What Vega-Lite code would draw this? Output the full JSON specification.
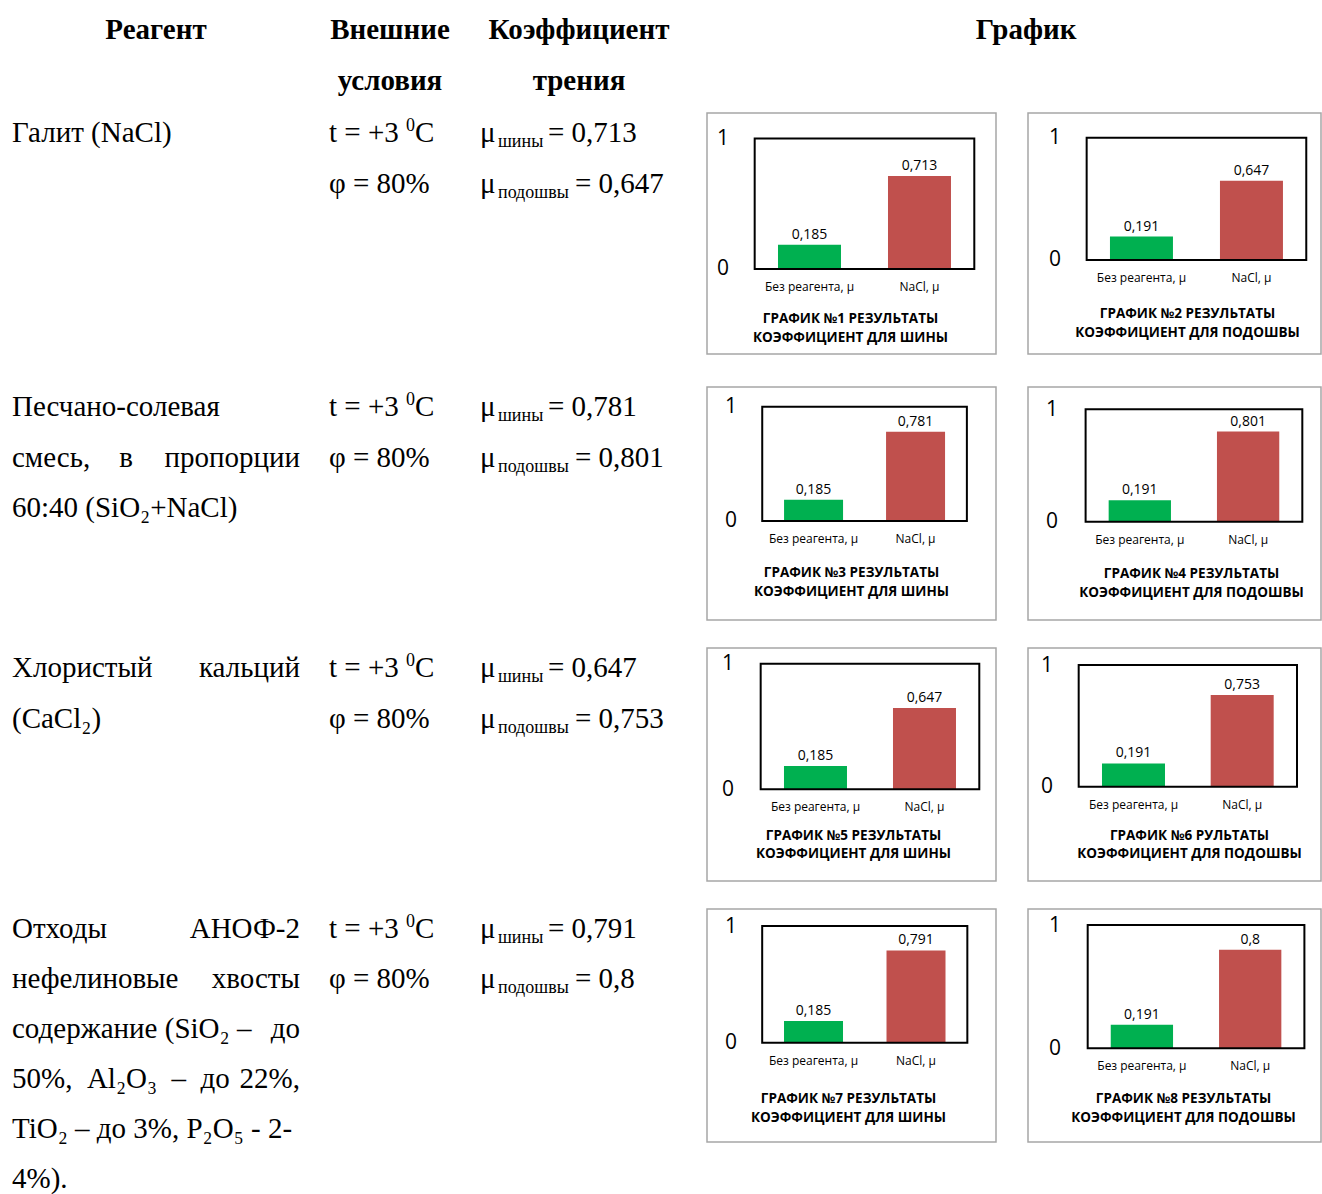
{
"$schema": "https://vega.github.io/schema/vega-lite/v6.json",
"padding": {"left": 12, "top": 0, "right": 0, "bottom": 0},
"background": "white",
"datasets": {
 "header": [
  {"col": "A", "line": 0, "txt": "Реагент"},
  {"col": "B", "line": 0, "txt": "Внешние"},
  {"col": "B", "line": 1, "txt": "условия"},
  {"col": "C", "line": 0, "txt": "Коэффициент"},
  {"col": "C", "line": 1, "txt": "трения"},
  {"col": "D", "line": 0, "txt": "График"}
 ],
 "reagent": [
  {"r": 1, "line": 0, "part": "L", "txt": "Галит (NaCl)"},
  {"r": 2, "line": 0, "part": "L", "txt": "Песчано-солевая"},
  {"r": 2, "line": 1, "part": "L", "txt": "смесь,\u00a0\u00a0\u00a0\u00a0в"},
  {"r": 2, "line": 1, "part": "R", "txt": "пропорции"},
  {"r": 2, "line": 2, "part": "L", "txt": "60:40 (SiO₂+NaCl)"},
  {"r": 3, "line": 0, "part": "L", "txt": "Хлористый"},
  {"r": 3, "line": 0, "part": "R", "txt": "кальций"},
  {"r": 3, "line": 1, "part": "L", "txt": "(CaCl₂)"},
  {"r": 4, "line": 0, "part": "L", "txt": "Отходы"},
  {"r": 4, "line": 0, "part": "R", "txt": "АНОФ-2"},
  {"r": 4, "line": 1, "part": "L", "txt": "нефелиновые"},
  {"r": 4, "line": 1, "part": "R", "txt": "хвосты"},
  {"r": 4, "line": 2, "part": "L", "txt": "содержание (SiO₂ –"},
  {"r": 4, "line": 2, "part": "R", "txt": "до"},
  {"r": 4, "line": 3, "part": "L", "txt": "50%,\u00a0\u00a0Al₂O₃\u00a0\u00a0–\u00a0\u00a0до"},
  {"r": 4, "line": 3, "part": "R", "txt": "22%,"},
  {"r": 4, "line": 4, "part": "L", "txt": "TiO₂ – до 3%, P₂O₅ - 2-"},
  {"r": 4, "line": 5, "part": "L", "txt": "4%)."}
 ],
 "cond": [
  {"r": 1, "line": 0, "main": "t = +3", "sup": "0", "tail": "C"}, {"r": 1, "line": 1, "main": "φ = 80%", "sup": "", "tail": ""},
  {"r": 2, "line": 0, "main": "t = +3", "sup": "0", "tail": "C"}, {"r": 2, "line": 1, "main": "φ = 80%", "sup": "", "tail": ""},
  {"r": 3, "line": 0, "main": "t = +3", "sup": "0", "tail": "C"}, {"r": 3, "line": 1, "main": "φ = 80%", "sup": "", "tail": ""},
  {"r": 4, "line": 0, "main": "t = +3", "sup": "0", "tail": "C"}, {"r": 4, "line": 1, "main": "φ = 80%", "sup": "", "tail": ""}
 ],
 "coef": [
  {"r": 1, "line": 0, "kind": "s", "sub": "шины", "val": "= 0,713"},
  {"r": 1, "line": 1, "kind": "p", "sub": "подошвы", "val": "= 0,647"},
  {"r": 2, "line": 0, "kind": "s", "sub": "шины", "val": "= 0,781"},
  {"r": 2, "line": 1, "kind": "p", "sub": "подошвы", "val": "= 0,801"},
  {"r": 3, "line": 0, "kind": "s", "sub": "шины", "val": "= 0,647"},
  {"r": 3, "line": 1, "kind": "p", "sub": "подошвы", "val": "= 0,753"},
  {"r": 4, "line": 0, "kind": "s", "sub": "шины", "val": "= 0,791"},
  {"r": 4, "line": 1, "kind": "p", "sub": "подошвы", "val": "= 0,8"}
 ],
 "bars": [
  {"chart": 1, "cat": "Без реагента, μ", "val": 0.185}, {"chart": 1, "cat": "NaCl, μ", "val": 0.713},
  {"chart": 2, "cat": "Без реагента, μ", "val": 0.191}, {"chart": 2, "cat": "NaCl, μ", "val": 0.647},
  {"chart": 3, "cat": "Без реагента, μ", "val": 0.185}, {"chart": 3, "cat": "NaCl, μ", "val": 0.781},
  {"chart": 4, "cat": "Без реагента, μ", "val": 0.191}, {"chart": 4, "cat": "NaCl, μ", "val": 0.801},
  {"chart": 5, "cat": "Без реагента, μ", "val": 0.185}, {"chart": 5, "cat": "NaCl, μ", "val": 0.647},
  {"chart": 6, "cat": "Без реагента, μ", "val": 0.191}, {"chart": 6, "cat": "NaCl, μ", "val": 0.753},
  {"chart": 7, "cat": "Без реагента, μ", "val": 0.185}, {"chart": 7, "cat": "NaCl, μ", "val": 0.791},
  {"chart": 8, "cat": "Без реагента, μ", "val": 0.191}, {"chart": 8, "cat": "NaCl, μ", "val": 0.8}
 ],
 "frame": [
  {"from": "Без реагента, μ", "to": "NaCl, μ", "lo": 0, "hi": 1}
 ]
},
"vconcat": [
 {"hconcat": [
   {"width": 288, "height": 95, "data": {"name": "header"}, "transform": [{"filter": "datum.col == 'A'"}],
    "mark": {"type": "text", "font": "Liberation Serif", "fontSize": 29, "fontWeight": "bold", "baseline": "alphabetic", "align": "center", "fill": "#000000"},
    "encoding": {"x": {"field": "col", "type": "nominal", "scale": {"type": "point", "padding": 0.5}, "axis": null},
     "y": {"field": "line", "type": "quantitative", "scale": {"domain": [-0.7723, 1.1089], "reverse": true, "nice": false, "zero": false}, "axis": null},
     "text": {"field": "txt"}}},
   {"width": 122, "height": 95, "data": {"name": "header"}, "transform": [{"filter": "datum.col == 'B'"}],
    "mark": {"type": "text", "font": "Liberation Serif", "fontSize": 29, "fontWeight": "bold", "baseline": "alphabetic", "align": "center", "fill": "#000000"},
    "encoding": {"x": {"field": "col", "type": "nominal", "scale": {"type": "point", "padding": 0.5}, "axis": null},
     "y": {"field": "line", "type": "quantitative", "scale": {"domain": [-0.7723, 1.1089], "reverse": true, "nice": false, "zero": false}, "axis": null},
     "text": {"field": "txt"}}},
   {"width": 198, "height": 95, "data": {"name": "header"}, "transform": [{"filter": "datum.col == 'C'"}],
    "mark": {"type": "text", "font": "Liberation Serif", "fontSize": 29, "fontWeight": "bold", "baseline": "alphabetic", "align": "center", "fill": "#000000"},
    "encoding": {"x": {"field": "col", "type": "nominal", "scale": {"type": "point", "padding": 0.5}, "axis": null},
     "y": {"field": "line", "type": "quantitative", "scale": {"domain": [-0.7723, 1.1089], "reverse": true, "nice": false, "zero": false}, "axis": null},
     "text": {"field": "txt"}}},
   {"width": 614, "height": 95, "data": {"name": "header"}, "transform": [{"filter": "datum.col == 'D'"}],
    "mark": {"type": "text", "font": "Liberation Serif", "fontSize": 29, "fontWeight": "bold", "baseline": "alphabetic", "align": "center", "fill": "#000000", "dx": 12},
    "encoding": {"x": {"field": "col", "type": "nominal", "scale": {"type": "point", "padding": 0.5}, "axis": null},
     "y": {"field": "line", "type": "quantitative", "scale": {"domain": [-0.7723, 1.1089], "reverse": true, "nice": false, "zero": false}, "axis": null},
     "text": {"field": "txt"}}}
  ], "spacing": 29, "bounds": "flush"},

 {"hconcat": [
   {"width": 288, "height": 257, "data": {"name": "reagent"}, "transform": [{"filter": "datum.r == 1"}],
    "encoding": {"x": {"field": "part", "type": "nominal", "scale": {"type": "point", "domain": ["L", "R"], "padding": 0}, "axis": null},
     "y": {"field": "line", "type": "quantitative", "scale": {"domain": [-0.5743, 4.5148], "reverse": true, "nice": false, "zero": false}, "axis": null},
     "text": {"field": "txt"}},
    "layer": [
     {"transform": [{"filter": "datum.part == 'L'"}], "mark": {"type": "text", "font": "Liberation Serif", "fontSize": 29, "baseline": "alphabetic", "align": "left", "fill": "#000000"}},
     {"transform": [{"filter": "datum.part == 'R'"}], "mark": {"type": "text", "font": "Liberation Serif", "fontSize": 29, "baseline": "alphabetic", "align": "right", "fill": "#000000"}}
    ]},
   {"width": 122, "height": 257, "data": {"name": "cond"}, "transform": [{"filter": "datum.r == 1"}],
    "encoding": {"x": {"datum": 0, "type": "quantitative", "scale": {"domain": [0, 1], "nice": false, "zero": false}, "axis": null},
     "y": {"field": "line", "type": "quantitative", "scale": {"domain": [-0.5743, 4.5148], "reverse": true, "nice": false, "zero": false}, "axis": null}},
    "layer": [
     {"mark": {"type": "text", "font": "Liberation Serif", "fontSize": 29, "baseline": "alphabetic", "align": "left", "fill": "#000000"}, "encoding": {"text": {"field": "main"}}},
     {"mark": {"type": "text", "font": "Liberation Serif", "fontSize": 18, "baseline": "alphabetic", "align": "left", "fill": "#000000", "dx": 77, "dy": -11}, "encoding": {"text": {"field": "sup"}}},
     {"mark": {"type": "text", "font": "Liberation Serif", "fontSize": 29, "baseline": "alphabetic", "align": "left", "fill": "#000000", "dx": 86}, "encoding": {"text": {"field": "tail"}}}
    ]},
   {"width": 198, "height": 257, "data": {"name": "coef"}, "transform": [{"filter": "datum.r == 1"}],
    "encoding": {"x": {"datum": 0, "type": "quantitative", "scale": {"domain": [0, 1], "nice": false, "zero": false}, "axis": null},
     "y": {"field": "line", "type": "quantitative", "scale": {"domain": [-0.5743, 4.5148], "reverse": true, "nice": false, "zero": false}, "axis": null}},
    "layer": [
     {"mark": {"type": "text", "text": "μ", "font": "Liberation Serif", "fontSize": 29, "baseline": "alphabetic", "align": "left", "fill": "#000000"}},
     {"mark": {"type": "text", "font": "Liberation Serif", "fontSize": 18, "baseline": "alphabetic", "align": "left", "fill": "#000000", "dx": 18, "dy": 5}, "encoding": {"text": {"field": "sub"}}},
     {"transform": [{"filter": "datum.kind == 's'"}], "mark": {"type": "text", "font": "Liberation Serif", "fontSize": 29, "baseline": "alphabetic", "align": "left", "fill": "#000000", "dx": 68}, "encoding": {"text": {"field": "val"}}},
     {"transform": [{"filter": "datum.kind == 'p'"}], "mark": {"type": "text", "font": "Liberation Serif", "fontSize": 29, "baseline": "alphabetic", "align": "left", "fill": "#000000", "dx": 95}, "encoding": {"text": {"field": "val"}}}
    ]},
   {"hconcat": [
     {"width": 289, "height": 241, "view": {"stroke": "#a6a6a6", "strokeWidth": 1.5},
      "title": {"text": ["ГРАФИК №1 РЕЗУЛЬТАТЫ", "КОЭФФИЦИЕНТ ДЛЯ ШИНЫ"], "offset": -42, "dx": -1},
      "layer": [
       {"data": {"name": "bars"}, "transform": [{"filter": "datum.chart == 1"}], "mark": {"type": "bar"},
        "encoding": {"x": {"field": "cat", "type": "nominal", "scale": {"domain": ["Без реагента, μ", "NaCl, μ"], "paddingInner": 0.4273, "paddingOuter": 0.5273, "align": 0.612}, "axis": {"offset": -85, "title": null}},
         "y": {"field": "val", "type": "quantitative", "scale": {"domain": [-0.652, 1.196], "nice": false, "zero": false}, "axis": {"offset": -21.5, "values": [0, 1], "title": null}},
         "color": {"field": "cat", "type": "nominal", "scale": {"domain": ["Без реагента, μ", "NaCl, μ"], "range": ["#00b050", "#c0504d"]}, "legend": null}}},
       {"data": {"name": "bars"}, "transform": [{"filter": "datum.chart == 1"}], "mark": {"type": "text", "baseline": "bottom", "dy": -3, "font": "Open Sans", "fontSize": 14, "fill": "#000000"},
        "encoding": {"x": {"field": "cat", "type": "nominal", "scale": {"domain": ["Без реагента, μ", "NaCl, μ"], "paddingInner": 0.4273, "paddingOuter": 0.5273, "align": 0.612}, "axis": {"offset": -85, "title": null}},
         "y": {"field": "val", "type": "quantitative", "scale": {"domain": [-0.652, 1.196], "nice": false, "zero": false}, "axis": {"offset": -21.5, "values": [0, 1], "title": null}},
         "text": {"field": "val", "type": "quantitative", "format": "~g"}}},
       {"data": {"name": "frame"}, "mark": {"type": "rect", "fill": "transparent", "stroke": "#000000", "strokeWidth": 2},
        "encoding": {"x": {"field": "from", "type": "nominal", "bandPosition": -0.37, "scale": {"domain": ["Без реагента, μ", "NaCl, μ"], "paddingInner": 0.4273, "paddingOuter": 0.5273, "align": 0.612}, "axis": {"offset": -85, "title": null}},
         "x2": {"field": "to", "bandPosition": 1.37},
         "y": {"field": "hi", "type": "quantitative", "scale": {"domain": [-0.652, 1.196], "nice": false, "zero": false}, "axis": {"offset": -21.5, "values": [0, 1], "title": null}},
         "y2": {"field": "lo"}}}
      ]},
     {"width": 293, "height": 241, "view": {"stroke": "#a6a6a6", "strokeWidth": 1.5},
      "title": {"text": ["ГРАФИК №2 РЕЗУЛЬТАТЫ", "КОЭФФИЦИЕНТ ДЛЯ ПОДОШВЫ"], "offset": -47, "dx": 13},
      "layer": [
       {"data": {"name": "bars"}, "transform": [{"filter": "datum.chart == 2"}], "mark": {"type": "bar"},
        "encoding": {"x": {"field": "cat", "type": "nominal", "scale": {"domain": ["Без реагента, μ", "NaCl, μ"], "paddingInner": 0.4273, "paddingOuter": 0.5455, "align": 0.683}, "axis": {"offset": -94, "title": null}},
         "y": {"field": "val", "type": "quantitative", "scale": {"domain": [-0.769, 1.202], "nice": false, "zero": false}, "axis": {"offset": -32.5, "values": [0, 1], "title": null}},
         "color": {"field": "cat", "type": "nominal", "scale": {"domain": ["Без реагента, μ", "NaCl, μ"], "range": ["#00b050", "#c0504d"]}, "legend": null}}},
       {"data": {"name": "bars"}, "transform": [{"filter": "datum.chart == 2"}], "mark": {"type": "text", "baseline": "bottom", "dy": -3, "font": "Open Sans", "fontSize": 14, "fill": "#000000"},
        "encoding": {"x": {"field": "cat", "type": "nominal", "scale": {"domain": ["Без реагента, μ", "NaCl, μ"], "paddingInner": 0.4273, "paddingOuter": 0.5455, "align": 0.683}, "axis": {"offset": -94, "title": null}},
         "y": {"field": "val", "type": "quantitative", "scale": {"domain": [-0.769, 1.202], "nice": false, "zero": false}, "axis": {"offset": -32.5, "values": [0, 1], "title": null}},
         "text": {"field": "val", "type": "quantitative", "format": "~g"}}},
       {"data": {"name": "frame"}, "mark": {"type": "rect", "fill": "transparent", "stroke": "#000000", "strokeWidth": 2},
        "encoding": {"x": {"field": "from", "type": "nominal", "bandPosition": -0.37, "scale": {"domain": ["Без реагента, μ", "NaCl, μ"], "paddingInner": 0.4273, "paddingOuter": 0.5455, "align": 0.683}, "axis": {"offset": -94, "title": null}},
         "x2": {"field": "to", "bandPosition": 1.37},
         "y": {"field": "hi", "type": "quantitative", "scale": {"domain": [-0.769, 1.202], "nice": false, "zero": false}, "axis": {"offset": -32.5, "values": [0, 1], "title": null}},
         "y2": {"field": "lo"}}}
      ]}
    ], "spacing": 32, "bounds": "flush"}
  ], "spacing": 29, "bounds": "flush"},

 {"hconcat": [
   {"width": 288, "height": 244, "data": {"name": "reagent"}, "transform": [{"filter": "datum.r == 2"}],
    "encoding": {"x": {"field": "part", "type": "nominal", "scale": {"type": "point", "domain": ["L", "R"], "padding": 0}, "axis": null},
     "y": {"field": "line", "type": "quantitative", "scale": {"domain": [-0.5743, 4.2574], "reverse": true, "nice": false, "zero": false}, "axis": null},
     "text": {"field": "txt"}},
    "layer": [
     {"transform": [{"filter": "datum.part == 'L'"}], "mark": {"type": "text", "font": "Liberation Serif", "fontSize": 29, "baseline": "alphabetic", "align": "left", "fill": "#000000"}},
     {"transform": [{"filter": "datum.part == 'R'"}], "mark": {"type": "text", "font": "Liberation Serif", "fontSize": 29, "baseline": "alphabetic", "align": "right", "fill": "#000000"}}
    ]},
   {"width": 122, "height": 244, "data": {"name": "cond"}, "transform": [{"filter": "datum.r == 2"}],
    "encoding": {"x": {"datum": 0, "type": "quantitative", "scale": {"domain": [0, 1], "nice": false, "zero": false}, "axis": null},
     "y": {"field": "line", "type": "quantitative", "scale": {"domain": [-0.5743, 4.2574], "reverse": true, "nice": false, "zero": false}, "axis": null}},
    "layer": [
     {"mark": {"type": "text", "font": "Liberation Serif", "fontSize": 29, "baseline": "alphabetic", "align": "left", "fill": "#000000"}, "encoding": {"text": {"field": "main"}}},
     {"mark": {"type": "text", "font": "Liberation Serif", "fontSize": 18, "baseline": "alphabetic", "align": "left", "fill": "#000000", "dx": 77, "dy": -11}, "encoding": {"text": {"field": "sup"}}},
     {"mark": {"type": "text", "font": "Liberation Serif", "fontSize": 29, "baseline": "alphabetic", "align": "left", "fill": "#000000", "dx": 86}, "encoding": {"text": {"field": "tail"}}}
    ]},
   {"width": 198, "height": 244, "data": {"name": "coef"}, "transform": [{"filter": "datum.r == 2"}],
    "encoding": {"x": {"datum": 0, "type": "quantitative", "scale": {"domain": [0, 1], "nice": false, "zero": false}, "axis": null},
     "y": {"field": "line", "type": "quantitative", "scale": {"domain": [-0.5743, 4.2574], "reverse": true, "nice": false, "zero": false}, "axis": null}},
    "layer": [
     {"mark": {"type": "text", "text": "μ", "font": "Liberation Serif", "fontSize": 29, "baseline": "alphabetic", "align": "left", "fill": "#000000"}},
     {"mark": {"type": "text", "font": "Liberation Serif", "fontSize": 18, "baseline": "alphabetic", "align": "left", "fill": "#000000", "dx": 18, "dy": 5}, "encoding": {"text": {"field": "sub"}}},
     {"transform": [{"filter": "datum.kind == 's'"}], "mark": {"type": "text", "font": "Liberation Serif", "fontSize": 29, "baseline": "alphabetic", "align": "left", "fill": "#000000", "dx": 68}, "encoding": {"text": {"field": "val"}}},
     {"transform": [{"filter": "datum.kind == 'p'"}], "mark": {"type": "text", "font": "Liberation Serif", "fontSize": 29, "baseline": "alphabetic", "align": "left", "fill": "#000000", "dx": 95}, "encoding": {"text": {"field": "val"}}}
    ]},
   {"hconcat": [
     {"width": 289, "height": 233, "view": {"stroke": "#a6a6a6", "strokeWidth": 1.5},
      "title": {"text": ["ГРАФИК №3 РЕЗУЛЬТАТЫ", "КОЭФФИЦИЕНТ ДЛЯ ШИНЫ"], "offset": -54, "dx": 0},
      "layer": [
       {"data": {"name": "bars"}, "transform": [{"filter": "datum.chart == 3"}], "mark": {"type": "bar"},
        "encoding": {"x": {"field": "cat", "type": "nominal", "scale": {"domain": ["Без реагента, μ", "NaCl, μ"], "paddingInner": 0.4216, "paddingOuter": 0.6275, "align": 0.602}, "axis": {"offset": -99, "title": null}},
         "y": {"field": "val", "type": "quantitative", "scale": {"domain": [-0.866, 1.172], "nice": false, "zero": false}, "axis": {"offset": -29.5, "values": [0, 1], "title": null}},
         "color": {"field": "cat", "type": "nominal", "scale": {"domain": ["Без реагента, μ", "NaCl, μ"], "range": ["#00b050", "#c0504d"]}, "legend": null}}},
       {"data": {"name": "bars"}, "transform": [{"filter": "datum.chart == 3"}], "mark": {"type": "text", "baseline": "bottom", "dy": -3, "font": "Open Sans", "fontSize": 14, "fill": "#000000"},
        "encoding": {"x": {"field": "cat", "type": "nominal", "scale": {"domain": ["Без реагента, μ", "NaCl, μ"], "paddingInner": 0.4216, "paddingOuter": 0.6275, "align": 0.602}, "axis": {"offset": -99, "title": null}},
         "y": {"field": "val", "type": "quantitative", "scale": {"domain": [-0.866, 1.172], "nice": false, "zero": false}, "axis": {"offset": -29.5, "values": [0, 1], "title": null}},
         "text": {"field": "val", "type": "quantitative", "format": "~g"}}},
       {"data": {"name": "frame"}, "mark": {"type": "rect", "fill": "transparent", "stroke": "#000000", "strokeWidth": 2},
        "encoding": {"x": {"field": "from", "type": "nominal", "bandPosition": -0.37, "scale": {"domain": ["Без реагента, μ", "NaCl, μ"], "paddingInner": 0.4216, "paddingOuter": 0.6275, "align": 0.602}, "axis": {"offset": -99, "title": null}},
         "x2": {"field": "to", "bandPosition": 1.37},
         "y": {"field": "hi", "type": "quantitative", "scale": {"domain": [-0.866, 1.172], "nice": false, "zero": false}, "axis": {"offset": -29.5, "values": [0, 1], "title": null}},
         "y2": {"field": "lo"}}}
      ]},
     {"width": 293, "height": 233, "view": {"stroke": "#a6a6a6", "strokeWidth": 1.5},
      "title": {"text": ["ГРАФИК №4 РЕЗУЛЬТАТЫ", "КОЭФФИЦИЕНТ ДЛЯ ПОДОШВЫ"], "offset": -53, "dx": 17},
      "layer": [
       {"data": {"name": "bars"}, "transform": [{"filter": "datum.chart == 4"}], "mark": {"type": "bar"},
        "encoding": {"x": {"field": "cat", "type": "nominal", "scale": {"domain": ["Без реагента, μ", "NaCl, μ"], "paddingInner": 0.4247, "paddingOuter": 0.5651, "align": 0.659}, "axis": {"offset": -98, "title": null}},
         "y": {"field": "val", "type": "quantitative", "scale": {"domain": [-0.875, 1.198], "nice": false, "zero": false}, "axis": {"offset": -29.5, "values": [0, 1], "title": null}},
         "color": {"field": "cat", "type": "nominal", "scale": {"domain": ["Без реагента, μ", "NaCl, μ"], "range": ["#00b050", "#c0504d"]}, "legend": null}}},
       {"data": {"name": "bars"}, "transform": [{"filter": "datum.chart == 4"}], "mark": {"type": "text", "baseline": "bottom", "dy": -3, "font": "Open Sans", "fontSize": 14, "fill": "#000000"},
        "encoding": {"x": {"field": "cat", "type": "nominal", "scale": {"domain": ["Без реагента, μ", "NaCl, μ"], "paddingInner": 0.4247, "paddingOuter": 0.5651, "align": 0.659}, "axis": {"offset": -98, "title": null}},
         "y": {"field": "val", "type": "quantitative", "scale": {"domain": [-0.875, 1.198], "nice": false, "zero": false}, "axis": {"offset": -29.5, "values": [0, 1], "title": null}},
         "text": {"field": "val", "type": "quantitative", "format": "~g"}}},
       {"data": {"name": "frame"}, "mark": {"type": "rect", "fill": "transparent", "stroke": "#000000", "strokeWidth": 2},
        "encoding": {"x": {"field": "from", "type": "nominal", "bandPosition": -0.37, "scale": {"domain": ["Без реагента, μ", "NaCl, μ"], "paddingInner": 0.4247, "paddingOuter": 0.5651, "align": 0.659}, "axis": {"offset": -98, "title": null}},
         "x2": {"field": "to", "bandPosition": 1.37},
         "y": {"field": "hi", "type": "quantitative", "scale": {"domain": [-0.875, 1.198], "nice": false, "zero": false}, "axis": {"offset": -29.5, "values": [0, 1], "title": null}},
         "y2": {"field": "lo"}}}
      ]}
    ], "spacing": 32, "bounds": "flush"}
  ], "spacing": 29, "bounds": "flush"},

 {"hconcat": [
   {"width": 288, "height": 244, "data": {"name": "reagent"}, "transform": [{"filter": "datum.r == 3"}],
    "encoding": {"x": {"field": "part", "type": "nominal", "scale": {"type": "point", "domain": ["L", "R"], "padding": 0}, "axis": null},
     "y": {"field": "line", "type": "quantitative", "scale": {"domain": [-0.5743, 4.2574], "reverse": true, "nice": false, "zero": false}, "axis": null},
     "text": {"field": "txt"}},
    "layer": [
     {"transform": [{"filter": "datum.part == 'L'"}], "mark": {"type": "text", "font": "Liberation Serif", "fontSize": 29, "baseline": "alphabetic", "align": "left", "fill": "#000000"}},
     {"transform": [{"filter": "datum.part == 'R'"}], "mark": {"type": "text", "font": "Liberation Serif", "fontSize": 29, "baseline": "alphabetic", "align": "right", "fill": "#000000"}}
    ]},
   {"width": 122, "height": 244, "data": {"name": "cond"}, "transform": [{"filter": "datum.r == 3"}],
    "encoding": {"x": {"datum": 0, "type": "quantitative", "scale": {"domain": [0, 1], "nice": false, "zero": false}, "axis": null},
     "y": {"field": "line", "type": "quantitative", "scale": {"domain": [-0.5743, 4.2574], "reverse": true, "nice": false, "zero": false}, "axis": null}},
    "layer": [
     {"mark": {"type": "text", "font": "Liberation Serif", "fontSize": 29, "baseline": "alphabetic", "align": "left", "fill": "#000000"}, "encoding": {"text": {"field": "main"}}},
     {"mark": {"type": "text", "font": "Liberation Serif", "fontSize": 18, "baseline": "alphabetic", "align": "left", "fill": "#000000", "dx": 77, "dy": -11}, "encoding": {"text": {"field": "sup"}}},
     {"mark": {"type": "text", "font": "Liberation Serif", "fontSize": 29, "baseline": "alphabetic", "align": "left", "fill": "#000000", "dx": 86}, "encoding": {"text": {"field": "tail"}}}
    ]},
   {"width": 198, "height": 244, "data": {"name": "coef"}, "transform": [{"filter": "datum.r == 3"}],
    "encoding": {"x": {"datum": 0, "type": "quantitative", "scale": {"domain": [0, 1], "nice": false, "zero": false}, "axis": null},
     "y": {"field": "line", "type": "quantitative", "scale": {"domain": [-0.5743, 4.2574], "reverse": true, "nice": false, "zero": false}, "axis": null}},
    "layer": [
     {"mark": {"type": "text", "text": "μ", "font": "Liberation Serif", "fontSize": 29, "baseline": "alphabetic", "align": "left", "fill": "#000000"}},
     {"mark": {"type": "text", "font": "Liberation Serif", "fontSize": 18, "baseline": "alphabetic", "align": "left", "fill": "#000000", "dx": 18, "dy": 5}, "encoding": {"text": {"field": "sub"}}},
     {"transform": [{"filter": "datum.kind == 's'"}], "mark": {"type": "text", "font": "Liberation Serif", "fontSize": 29, "baseline": "alphabetic", "align": "left", "fill": "#000000", "dx": 68}, "encoding": {"text": {"field": "val"}}},
     {"transform": [{"filter": "datum.kind == 'p'"}], "mark": {"type": "text", "font": "Liberation Serif", "fontSize": 29, "baseline": "alphabetic", "align": "left", "fill": "#000000", "dx": 95}, "encoding": {"text": {"field": "val"}}}
    ]},
   {"hconcat": [
     {"width": 289, "height": 233, "view": {"stroke": "#a6a6a6", "strokeWidth": 1.5},
      "title": {"text": ["ГРАФИК №5 РЕЗУЛЬТАТЫ", "КОЭФФИЦИЕНТ ДЛЯ ШИНЫ"], "offset": -52.5, "dx": 2},
      "layer": [
       {"data": {"name": "bars"}, "transform": [{"filter": "datum.chart == 5"}], "mark": {"type": "bar"},
        "encoding": {"x": {"field": "cat", "type": "nominal", "scale": {"domain": ["Без реагента, μ", "NaCl, μ"], "paddingInner": 0.422, "paddingOuter": 0.5367, "align": 0.658}, "axis": {"offset": -92, "title": null}},
         "y": {"field": "val", "type": "quantitative", "scale": {"domain": [-0.73, 1.125], "nice": false, "zero": false}, "axis": {"offset": -26.5, "values": [0, 1], "title": null}},
         "color": {"field": "cat", "type": "nominal", "scale": {"domain": ["Без реагента, μ", "NaCl, μ"], "range": ["#00b050", "#c0504d"]}, "legend": null}}},
       {"data": {"name": "bars"}, "transform": [{"filter": "datum.chart == 5"}], "mark": {"type": "text", "baseline": "bottom", "dy": -3, "font": "Open Sans", "fontSize": 14, "fill": "#000000"},
        "encoding": {"x": {"field": "cat", "type": "nominal", "scale": {"domain": ["Без реагента, μ", "NaCl, μ"], "paddingInner": 0.422, "paddingOuter": 0.5367, "align": 0.658}, "axis": {"offset": -92, "title": null}},
         "y": {"field": "val", "type": "quantitative", "scale": {"domain": [-0.73, 1.125], "nice": false, "zero": false}, "axis": {"offset": -26.5, "values": [0, 1], "title": null}},
         "text": {"field": "val", "type": "quantitative", "format": "~g"}}},
       {"data": {"name": "frame"}, "mark": {"type": "rect", "fill": "transparent", "stroke": "#000000", "strokeWidth": 2},
        "encoding": {"x": {"field": "from", "type": "nominal", "bandPosition": -0.37, "scale": {"domain": ["Без реагента, μ", "NaCl, μ"], "paddingInner": 0.422, "paddingOuter": 0.5367, "align": 0.658}, "axis": {"offset": -92, "title": null}},
         "x2": {"field": "to", "bandPosition": 1.37},
         "y": {"field": "hi", "type": "quantitative", "scale": {"domain": [-0.73, 1.125], "nice": false, "zero": false}, "axis": {"offset": -26.5, "values": [0, 1], "title": null}},
         "y2": {"field": "lo"}}}
      ]},
     {"width": 293, "height": 233, "view": {"stroke": "#a6a6a6", "strokeWidth": 1.5},
      "title": {"text": ["ГРАФИК №6 РУЛЬТАТЫ", "КОЭФФИЦИЕНТ ДЛЯ ПОДОШВЫ"], "offset": -52.5, "dx": 15},
      "layer": [
       {"data": {"name": "bars"}, "transform": [{"filter": "datum.chart == 6"}], "mark": {"type": "bar"},
        "encoding": {"x": {"field": "cat", "type": "nominal", "scale": {"domain": ["Без реагента, μ", "NaCl, μ"], "paddingInner": 0.4204, "paddingOuter": 0.558, "align": 0.61}, "axis": {"offset": -94, "title": null}},
         "y": {"field": "val", "type": "quantitative", "scale": {"domain": [-0.775, 1.14], "nice": false, "zero": false}, "axis": {"offset": -24.5, "values": [0, 1], "title": null}},
         "color": {"field": "cat", "type": "nominal", "scale": {"domain": ["Без реагента, μ", "NaCl, μ"], "range": ["#00b050", "#c0504d"]}, "legend": null}}},
       {"data": {"name": "bars"}, "transform": [{"filter": "datum.chart == 6"}], "mark": {"type": "text", "baseline": "bottom", "dy": -3, "font": "Open Sans", "fontSize": 14, "fill": "#000000"},
        "encoding": {"x": {"field": "cat", "type": "nominal", "scale": {"domain": ["Без реагента, μ", "NaCl, μ"], "paddingInner": 0.4204, "paddingOuter": 0.558, "align": 0.61}, "axis": {"offset": -94, "title": null}},
         "y": {"field": "val", "type": "quantitative", "scale": {"domain": [-0.775, 1.14], "nice": false, "zero": false}, "axis": {"offset": -24.5, "values": [0, 1], "title": null}},
         "text": {"field": "val", "type": "quantitative", "format": "~g"}}},
       {"data": {"name": "frame"}, "mark": {"type": "rect", "fill": "transparent", "stroke": "#000000", "strokeWidth": 2},
        "encoding": {"x": {"field": "from", "type": "nominal", "bandPosition": -0.37, "scale": {"domain": ["Без реагента, μ", "NaCl, μ"], "paddingInner": 0.4204, "paddingOuter": 0.558, "align": 0.61}, "axis": {"offset": -94, "title": null}},
         "x2": {"field": "to", "bandPosition": 1.37},
         "y": {"field": "hi", "type": "quantitative", "scale": {"domain": [-0.775, 1.14], "nice": false, "zero": false}, "axis": {"offset": -24.5, "values": [0, 1], "title": null}},
         "y2": {"field": "lo"}}}
      ]}
    ], "spacing": 32, "bounds": "flush"}
  ], "spacing": 29, "bounds": "flush"},

 {"hconcat": [
   {"width": 288, "height": 233, "data": {"name": "reagent"}, "transform": [{"filter": "datum.r == 4"}],
    "encoding": {"x": {"field": "part", "type": "nominal", "scale": {"type": "point", "domain": ["L", "R"], "padding": 0}, "axis": null},
     "y": {"field": "line", "type": "quantitative", "scale": {"domain": [-0.58, 4.08], "reverse": true, "nice": false, "zero": false}, "axis": null},
     "text": {"field": "txt"}},
    "layer": [
     {"transform": [{"filter": "datum.part == 'L'"}], "mark": {"type": "text", "font": "Liberation Serif", "fontSize": 29, "baseline": "alphabetic", "align": "left", "fill": "#000000"}},
     {"transform": [{"filter": "datum.part == 'R'"}], "mark": {"type": "text", "font": "Liberation Serif", "fontSize": 29, "baseline": "alphabetic", "align": "right", "fill": "#000000"}}
    ]},
   {"width": 122, "height": 233, "data": {"name": "cond"}, "transform": [{"filter": "datum.r == 4"}],
    "encoding": {"x": {"datum": 0, "type": "quantitative", "scale": {"domain": [0, 1], "nice": false, "zero": false}, "axis": null},
     "y": {"field": "line", "type": "quantitative", "scale": {"domain": [-0.58, 4.08], "reverse": true, "nice": false, "zero": false}, "axis": null}},
    "layer": [
     {"mark": {"type": "text", "font": "Liberation Serif", "fontSize": 29, "baseline": "alphabetic", "align": "left", "fill": "#000000"}, "encoding": {"text": {"field": "main"}}},
     {"mark": {"type": "text", "font": "Liberation Serif", "fontSize": 18, "baseline": "alphabetic", "align": "left", "fill": "#000000", "dx": 77, "dy": -11}, "encoding": {"text": {"field": "sup"}}},
     {"mark": {"type": "text", "font": "Liberation Serif", "fontSize": 29, "baseline": "alphabetic", "align": "left", "fill": "#000000", "dx": 86}, "encoding": {"text": {"field": "tail"}}}
    ]},
   {"width": 198, "height": 233, "data": {"name": "coef"}, "transform": [{"filter": "datum.r == 4"}],
    "encoding": {"x": {"datum": 0, "type": "quantitative", "scale": {"domain": [0, 1], "nice": false, "zero": false}, "axis": null},
     "y": {"field": "line", "type": "quantitative", "scale": {"domain": [-0.58, 4.08], "reverse": true, "nice": false, "zero": false}, "axis": null}},
    "layer": [
     {"mark": {"type": "text", "text": "μ", "font": "Liberation Serif", "fontSize": 29, "baseline": "alphabetic", "align": "left", "fill": "#000000"}},
     {"mark": {"type": "text", "font": "Liberation Serif", "fontSize": 18, "baseline": "alphabetic", "align": "left", "fill": "#000000", "dx": 18, "dy": 5}, "encoding": {"text": {"field": "sub"}}},
     {"transform": [{"filter": "datum.kind == 's'"}], "mark": {"type": "text", "font": "Liberation Serif", "fontSize": 29, "baseline": "alphabetic", "align": "left", "fill": "#000000", "dx": 68}, "encoding": {"text": {"field": "val"}}},
     {"transform": [{"filter": "datum.kind == 'p'"}], "mark": {"type": "text", "font": "Liberation Serif", "fontSize": 29, "baseline": "alphabetic", "align": "left", "fill": "#000000", "dx": 95}, "encoding": {"text": {"field": "val"}}}
    ]},
   {"hconcat": [
     {"width": 289, "height": 233, "view": {"stroke": "#a6a6a6", "strokeWidth": 1.5},
      "title": {"text": ["ГРАФИК №7 РЕЗУЛЬТАТЫ", "КОЭФФИЦИЕНТ ДЛЯ ШИНЫ"], "offset": -50, "dx": -3},
      "layer": [
       {"data": {"name": "bars"}, "transform": [{"filter": "datum.chart == 7"}], "mark": {"type": "bar"},
        "encoding": {"x": {"field": "cat", "type": "nominal", "scale": {"domain": ["Без реагента, μ", "NaCl, μ"], "paddingInner": 0.4244, "paddingOuter": 0.622, "align": 0.604}, "axis": {"offset": -99, "title": null}},
         "y": {"field": "val", "type": "quantitative", "scale": {"domain": [-0.851, 1.146], "nice": false, "zero": false}, "axis": {"offset": -29.5, "values": [0, 1], "title": null}},
         "color": {"field": "cat", "type": "nominal", "scale": {"domain": ["Без реагента, μ", "NaCl, μ"], "range": ["#00b050", "#c0504d"]}, "legend": null}}},
       {"data": {"name": "bars"}, "transform": [{"filter": "datum.chart == 7"}], "mark": {"type": "text", "baseline": "bottom", "dy": -3, "font": "Open Sans", "fontSize": 14, "fill": "#000000"},
        "encoding": {"x": {"field": "cat", "type": "nominal", "scale": {"domain": ["Без реагента, μ", "NaCl, μ"], "paddingInner": 0.4244, "paddingOuter": 0.622, "align": 0.604}, "axis": {"offset": -99, "title": null}},
         "y": {"field": "val", "type": "quantitative", "scale": {"domain": [-0.851, 1.146], "nice": false, "zero": false}, "axis": {"offset": -29.5, "values": [0, 1], "title": null}},
         "text": {"field": "val", "type": "quantitative", "format": "~g"}}},
       {"data": {"name": "frame"}, "mark": {"type": "rect", "fill": "transparent", "stroke": "#000000", "strokeWidth": 2},
        "encoding": {"x": {"field": "from", "type": "nominal", "bandPosition": -0.37, "scale": {"domain": ["Без реагента, μ", "NaCl, μ"], "paddingInner": 0.4244, "paddingOuter": 0.622, "align": 0.604}, "axis": {"offset": -99, "title": null}},
         "x2": {"field": "to", "bandPosition": 1.37},
         "y": {"field": "hi", "type": "quantitative", "scale": {"domain": [-0.851, 1.146], "nice": false, "zero": false}, "axis": {"offset": -29.5, "values": [0, 1], "title": null}},
         "y2": {"field": "lo"}}}
      ]},
     {"width": 293, "height": 233, "view": {"stroke": "#a6a6a6", "strokeWidth": 1.5},
      "title": {"text": ["ГРАФИК №8 РЕЗУЛЬТАТЫ", "КОЭФФИЦИЕНТ ДЛЯ ПОДОШВЫ"], "offset": -50, "dx": 9},
      "layer": [
       {"data": {"name": "bars"}, "transform": [{"filter": "datum.chart == 8"}], "mark": {"type": "bar"},
        "encoding": {"x": {"field": "cat", "type": "nominal", "scale": {"domain": ["Без реагента, μ", "NaCl, μ"], "paddingInner": 0.4247, "paddingOuter": 0.5651, "align": 0.676}, "axis": {"offset": -94, "title": null}},
         "y": {"field": "val", "type": "quantitative", "scale": {"domain": [-0.76, 1.13], "nice": false, "zero": false}, "axis": {"offset": -32.5, "values": [0, 1], "title": null}},
         "color": {"field": "cat", "type": "nominal", "scale": {"domain": ["Без реагента, μ", "NaCl, μ"], "range": ["#00b050", "#c0504d"]}, "legend": null}}},
       {"data": {"name": "bars"}, "transform": [{"filter": "datum.chart == 8"}], "mark": {"type": "text", "baseline": "bottom", "dy": -3, "font": "Open Sans", "fontSize": 14, "fill": "#000000"},
        "encoding": {"x": {"field": "cat", "type": "nominal", "scale": {"domain": ["Без реагента, μ", "NaCl, μ"], "paddingInner": 0.4247, "paddingOuter": 0.5651, "align": 0.676}, "axis": {"offset": -94, "title": null}},
         "y": {"field": "val", "type": "quantitative", "scale": {"domain": [-0.76, 1.13], "nice": false, "zero": false}, "axis": {"offset": -32.5, "values": [0, 1], "title": null}},
         "text": {"field": "val", "type": "quantitative", "format": "~g"}}},
       {"data": {"name": "frame"}, "mark": {"type": "rect", "fill": "transparent", "stroke": "#000000", "strokeWidth": 2},
        "encoding": {"x": {"field": "from", "type": "nominal", "bandPosition": -0.37, "scale": {"domain": ["Без реагента, μ", "NaCl, μ"], "paddingInner": 0.4247, "paddingOuter": 0.5651, "align": 0.676}, "axis": {"offset": -94, "title": null}},
         "x2": {"field": "to", "bandPosition": 1.37},
         "y": {"field": "hi", "type": "quantitative", "scale": {"domain": [-0.76, 1.13], "nice": false, "zero": false}, "axis": {"offset": -32.5, "values": [0, 1], "title": null}},
         "y2": {"field": "lo"}}}
      ]}
    ], "spacing": 32, "bounds": "flush"}
  ], "spacing": 29, "bounds": "flush"}
],
"spacing": 16,
"config": {
 "view": {"stroke": null},
 "locale": {"number": {"decimal": ",", "thousands": "\u00a0", "grouping": [3], "currency": ["", ""]}},
 "axis": {"grid": false, "domain": false, "ticks": false, "tickSize": 0, "labelColor": "#000000", "labelFont": "Open Sans"},
 "axisX": {"labelFontSize": 12, "labelPadding": 12, "labelAngle": 0},
 "axisY": {"labelFontSize": 21, "labelPadding": 0},
 "title": {"orient": "bottom", "anchor": "middle", "font": "Open Sans", "fontSize": 13.5, "fontWeight": "bold", "color": "#000000", "lineHeight": 18.5}
}
}
